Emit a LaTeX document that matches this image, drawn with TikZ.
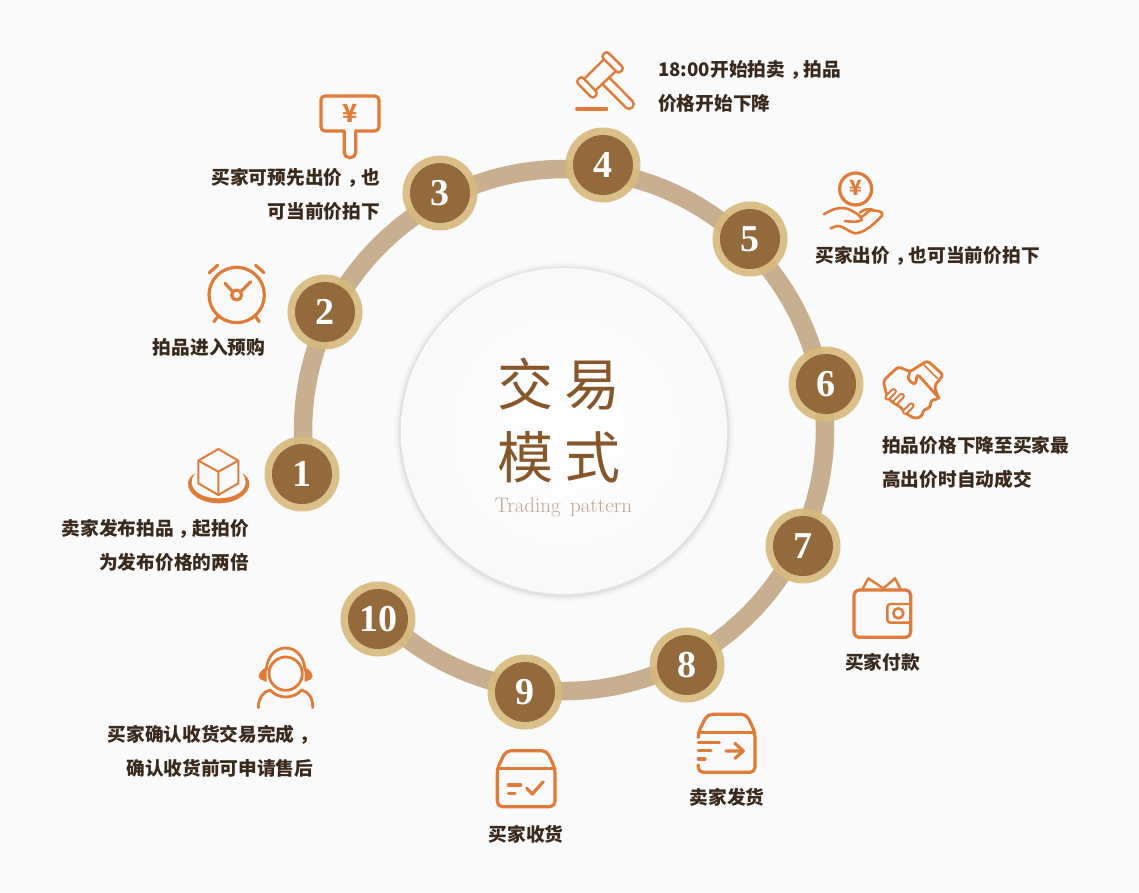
\documentclass[tikz,border=0pt]{standalone}
\usepackage{fontspec}
\newfontfamily\cjk{Noto Sans CJK SC}
\newfontfamily\numfont{Liberation Serif}
\newcommand\fwc{\hspace{5pt}，\hspace{-5pt}\kern0pt}
\definecolor{bgc}{HTML}{FAFAFA}
\definecolor{ringc}{HTML}{C7AF8F}
\definecolor{halo}{HTML}{D7BA7C}
\definecolor{coin}{HTML}{926A3B}
\definecolor{ico}{HTML}{E07C3A}
\definecolor{ink}{HTML}{3A2A1C}
\definecolor{ttl}{HTML}{85572A}
\definecolor{sub}{HTML}{BFA48E}
\tikzset{
  x=1pt,y=-1pt,
  ringline/.style={draw=ringc,line width=18.5pt,line cap=butt},
  halodisc/.style={circle,fill=halo,fill opacity=.9,minimum size=75pt,inner sep=0pt},
  numdisc/.style={circle,fill=coin,minimum size=60pt,inner sep=0pt,text=white,font=\numfont\bfseries\fontsize{38}{38}\selectfont},
  lbl/.style={text=ink,inner sep=0pt,font=\cjk\bfseries\fontsize{18.7}{34}\selectfont},
  icon/.style={draw=ico,line width=3.2pt,line cap=round,line join=round},
  thin icon/.style={draw=ico,line width=2.4pt,line cap=round,line join=round},
}
\begin{document}
\begin{tikzpicture}
\fill[bgc] (0,0) rectangle (1139,892);
\useasboundingbox (0,0) rectangle (1139,892);
% centre disc with soft shadow
\foreach \r/\o in {170/.012,168/.018,166.5/.028,165/.04}{
  \fill[black,opacity=\o] (564,432) circle[radius=\r pt];
}
\node[circle,inner sep=0pt,minimum size=326pt,inner color=white,outer color=black!2.5] (hub) at (564,431) {};
\node[inner sep=0pt,text=ttl,align=center,font=\cjk\fontsize{56}{73}\selectfont] (title) at (559,421) {交\hspace{12pt}易\\模\hspace{12pt}式};
\node[inner sep=0pt,text=sub,font=\fontsize{21}{21}\selectfont] (subtitle) at (563.5,507) {Trading\hspace{3pt} pattern};
% ring
\foreach \n/\x/\y in {1/302/474,2/325/312,3/440/193,4/603/165,5/750/239,6/826/384,7/803/546,8/687/665,9/525/692,10/378/619}{
  \coordinate (p\n) at (\x,\y);
}
\draw[ringline] (p10) ++(3.4,-2.5) arc[start angle=225.6,end angle=549.75,radius=261pt];
\foreach \n in {1,...,10}{
  \node[halodisc] (h\n) at (p\n) {};
  \node[numdisc] (n\n) at (p\n) {\n};
}
% labels
\node[lbl,anchor=east,align=right] (t1) at (249,545) {卖家发布拍品\fwc 起拍价\\为发布价格的两倍};
\node[lbl] (t2) at (209,347) {拍品进入预购};
\node[lbl,anchor=east,align=right] (t3) at (380,194) {买家可预先出价\fwc 也\\可当前价拍下};
\node[lbl,anchor=west,align=left] (t4) at (658,86) {18:00开始拍卖\fwc 拍品\\价格开始下降};
\node[lbl] (t5) at (927.5,256) {买家出价\fwc 也可当前价拍下};
\node[lbl,anchor=west,align=left] (t6) at (882,462) {拍品价格下降至买家最\\高出价时自动成交};
\node[lbl] (t7) at (882.5,662) {买家付款};
\node[lbl] (t8) at (727,797) {卖家发货};
\node[lbl] (t9) at (526,834) {买家收货};
\node[lbl,anchor=east,align=right] (t10) at (313.5,751) {买家确认收货交易完成\fwc\\确认收货前可申请售后};
% icon: cube (crop origin 170,440)
\begin{scope}[shift={(170,440)},x=.3333pt,y=-.3333pt]
\draw[thin icon,line width=2pt] (145,27)--(205,62)--(205,130)--(145,165)--(85,130)--(85,62)--cycle;
\draw[thin icon,line width=2pt] (85,62)--(145,95)--(205,62) (145,95)--(145,165);
\fill[ico] (75,100) .. controls (25,130) and (70,190) .. (146,190) .. controls (222,190) and (267,130) .. (217,100) .. controls (247,140) and (207,175) .. (146,175) .. controls (85,175) and (45,140) .. (75,100) -- cycle;
% headset
\draw[thin icon,line width=2.8pt] (347,701) circle[radius=50*.3333pt];
\draw[thin icon,line width=2.8pt] (289,690) .. controls (294,602) and (400,602) .. (405,690);
\fill[ico] (290,682) .. controls (270,690) and (258,710) .. (272,718) -- (290,726) -- cycle;
\fill[ico] (404,682) .. controls (424,690) and (436,710) .. (422,718) -- (404,726) -- cycle;
\draw[thin icon,line width=2.8pt] (265,803) .. controls (265,775) and (280,755) .. (300,750) .. controls (325,778) and (370,778) .. (395,750) .. controls (415,755) and (430,775) .. (428,803);
\end{scope}
% icon: paddle and clock (crop origin 150,80)
\begin{scope}[shift={(150,80)},x=.3333pt,y=-.3333pt]
\draw[icon,rounded corners=4pt] (513,48) rectangle (687,153);
\fill[bgc] (586,145) rectangle (614,160);
\draw[icon,rounded corners=5pt] (583,153)--(583,233)--(617,233)--(617,153);
\node[text=ico,inner sep=0pt,font=\cjk\bfseries\fontsize{25}{25}\selectfont] (yen1) at (600,99) {¥};
\draw[icon] (260,645) circle[radius=83*.3333pt];
\draw[icon] (260,645) circle[radius=15*.3333pt];
\draw[icon] (178,578)--(203,556) (342,578)--(317,556) (192,725)--(205,708) (328,725)--(315,708);
\draw[icon] (225,610)--(248,635) (302,605)--(272,635);
\end{scope}
% icon: gavel and coin hand (crop origin 560,40)
\begin{scope}[shift={(560,40)},x=.3333pt,y=-.3333pt]
\begin{scope}[thin icon]
\draw[rounded corners=3pt] (140,33)--(192,85)--(176,101)--(124,50)--cycle;
\draw[rounded corners=3pt] (64,108)--(114,160)--(98,176)--(48,125)--cycle;
\draw (132,58)--(72,117) (168,93)--(106,152);
\draw[rounded corners=4pt] (147,112)--(226,192)--(207,212)--(127,132);
\end{scope}
\draw[icon] (50,207)--(140,207);
\draw[icon] (887,447) circle[radius=48*.3333pt];
\node[text=ico,inner sep=0pt,font=\cjk\bfseries\fontsize{21}{21}\selectfont] (yen2) at (887,445) {¥};
\draw[thin icon,line width=2.6pt] (792,523) .. controls (820,505) and (850,495) .. (880,515) .. controls (900,525) and (905,535) .. (905,540) .. controls (895,548) and (870,545) .. (855,543);
\draw[thin icon,line width=2.6pt] (905,530) .. controls (925,520) and (925,505) .. (945,512) .. controls (960,512) and (972,518) .. (965,528) .. controls (940,555) and (910,580) .. (885,580) .. controls (865,575) and (845,555) .. (830,558) -- (812,565);
\draw[thin icon,line width=2.6pt] (900,518) .. controls (915,505) and (930,505) .. (942,511);
\end{scope}
% icon: handshake (crop origin 840,350)
\begin{scope}[shift={(840,350)},x=.3333pt,y=-.3333pt]
\draw[thin icon,line width=2.8pt,rounded corners=3pt] (175,50)--(130,92)--(138,128)--(150,152)--(180,170)--(200,192)--(225,206)--(245,200)--(250,180)--(272,172)--(272,150)--(296,148)--(283,108)--(310,75)--(262,32)--(210,65)--cycle;
\draw[thin icon,line width=2.8pt,rounded corners=3pt] (210,65)--(203,88)--(226,105)--(232,72)--(298,145);
\draw[thin icon,line width=1.6pt] (252,45)--(292,85);
\foreach \x/\y in {152/133,176/147,205/176}{
  \draw[draw=ico,line width=6.5pt,line cap=round] (\x-9,\y+9)--(\x+9,\y-9);
}
\foreach \x/\y in {152/133,176/147,205/176}{
  \draw[draw=bgc,line width=2.4pt,line cap=round] (\x-9,\y+9)--(\x+9,\y-9);
}
\end{scope}
% icon: wallet (crop origin 830,570)
\begin{scope}[shift={(830,570)},x=.3333pt,y=-.3333pt]
\draw[icon,rounded corners=5pt] (72,60) rectangle (242,202);
\draw[thin icon,rounded corners=3pt] (242,102)--(172,102)--(172,158)--(242,158);
\draw[thin icon,line width=2.6pt] (205,130) circle[radius=15*.3333pt];
\draw[thin icon] (97,58)--(115,25)--(160,55)--(195,25)--(212,58);
\end{scope}
% icons: boxes (crop origin 480,700)
\begin{scope}[shift={(480,700)},x=.3333pt,y=-.3333pt]
\draw[icon,rounded corners=5pt] (52,320)--(52,205)--(78,152)--(200,152)--(225,205)--(225,320)--cycle;
\draw[icon] (52,205)--(225,205);
\draw[icon] (85,255)--(122,255) (85,280)--(105,280);
\draw[icon] (140,265)--(157,282)--(190,245);
\draw[icon,rounded corners=5pt] (655,108)--(655,97)--(682,43)--(800,43)--(825,97)--(825,217)--(655,217)--(655,195);
\draw[icon] (655,97)--(825,97);
\draw[icon] (655,128)--(718,128) (655,152)--(693,152) (655,177)--(675,177);
\draw[icon] (738,153)--(790,153) (765,130)--(790,153)--(765,175);
\end{scope}
\end{tikzpicture}
\end{document}
